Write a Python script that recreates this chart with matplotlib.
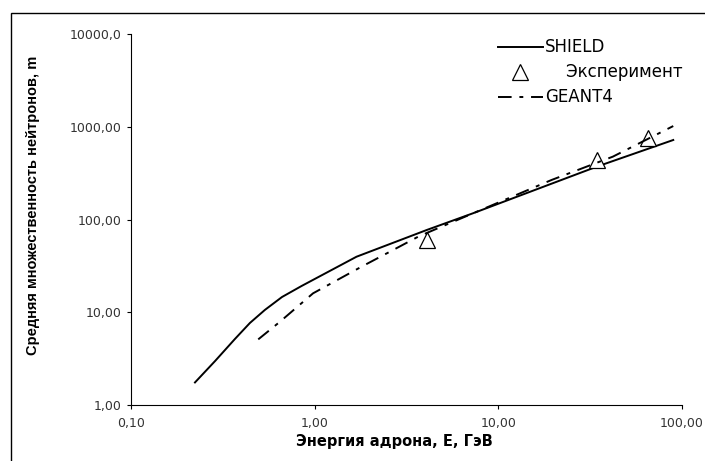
import numpy as np
import matplotlib.pyplot as plt
from matplotlib.patches import Rectangle
from matplotlib.ticker import FixedLocator, NullLocator

plt.rcParams['font.family'] = ['Liberation Sans', 'DejaVu Sans']

# SHIELD calculation
shield_e = [0.223, 0.287, 0.368, 0.444, 0.536, 0.664, 0.849, 1.69, 4.07,
            7.3, 34.3, 89.6]
shield_m = [1.75, 2.98, 5.15, 7.66, 10.6, 14.6, 19.2, 39.7, 77.0,
            117.0, 371.0, 720.0]

# GEANT4 calculation
geant_e = [0.493, 0.647, 0.98, 1.8, 2.57, 3.7, 19.5, 42.0, 89.6]
geant_m = [5.1, 7.9, 16.0, 31.0, 45.0, 66.0, 267.0, 476.0, 1018.0]

# experiment
exp_e = [4.07, 34.3, 65.6]
exp_m = [60.0, 437.0, 750.0]

x_ticks = [0.1, 1, 10, 100]
x_labels = ['0,10', '1,00', '10,00', '100,00']
y_ticks = [1, 10, 100, 1000, 10000]
y_labels = ['1,00', '10,00', '100,00', '1000,00', '10000,0']

fig = plt.figure(figsize=(7.05, 4.61), dpi=100)
ax = fig.add_axes([0.1858, 0.1215, 0.7816, 0.8047])

ax.plot(shield_e, shield_m, color='black', lw=1.4, label='SHIELD')
ax.plot(exp_e, exp_m, ls='none', marker='^', ms=12, mfc='white',
        mec='black', mew=0.9, label='    Эксперимент')
ax.plot(geant_e, geant_m, color='black', lw=1.4, dashes=(7, 4, 2, 4),
        label='GEANT4')

ax.set_xscale('log')
ax.set_yscale('log')
ax.set_xlim(0.1, 100)
ax.set_ylim(1, 10000)
ax.xaxis.set_major_locator(FixedLocator(x_ticks))
ax.yaxis.set_major_locator(FixedLocator(y_ticks))
ax.xaxis.set_minor_locator(NullLocator())
ax.yaxis.set_minor_locator(NullLocator())
ax.set_xticklabels(x_labels)
ax.set_yticklabels(y_labels)
ax.tick_params(axis='both', labelsize=9, colors='black', width=0.8,
               length=3, labelcolor='#333333')
ax.tick_params(axis='x', pad=6)
for lbl in ax.get_xticklabels() + ax.get_yticklabels():
    lbl.set_family('DejaVu Sans')

for s in ['top', 'right']:
    ax.spines[s].set_visible(False)
for s in ['left', 'bottom']:
    ax.spines[s].set_linewidth(0.8)

ax.set_xlabel('Энергия адрона, E, ГэВ', fontsize=10.5, fontweight='bold',
              family='DejaVu Sans', va='center')
ax.xaxis.set_label_coords(0.478, -0.0997)
ax.set_ylabel('Средняя множественность нейтронов, m', fontsize=10.5,
              fontweight='bold', va='center')
ax.yaxis.set_label_coords(-0.178, 0.539)

ax.legend(loc='upper left', bbox_to_anchor=(0.666, 0.988), frameon=False,
          prop={'family': 'DejaVu Sans', 'size': 12}, handlelength=2.7,
          handletextpad=0.12, labelspacing=0.42, borderpad=0,
          borderaxespad=0)

# outer chart border (left and top visible only)
fig.add_artist(Rectangle((11 / 705, -0.1), 1.2, 0.1 + (461 - 13) / 461,
                         transform=fig.transFigure, fill=False,
                         ec='black', lw=1.0))

fig.savefig('out.png', dpi=100)
